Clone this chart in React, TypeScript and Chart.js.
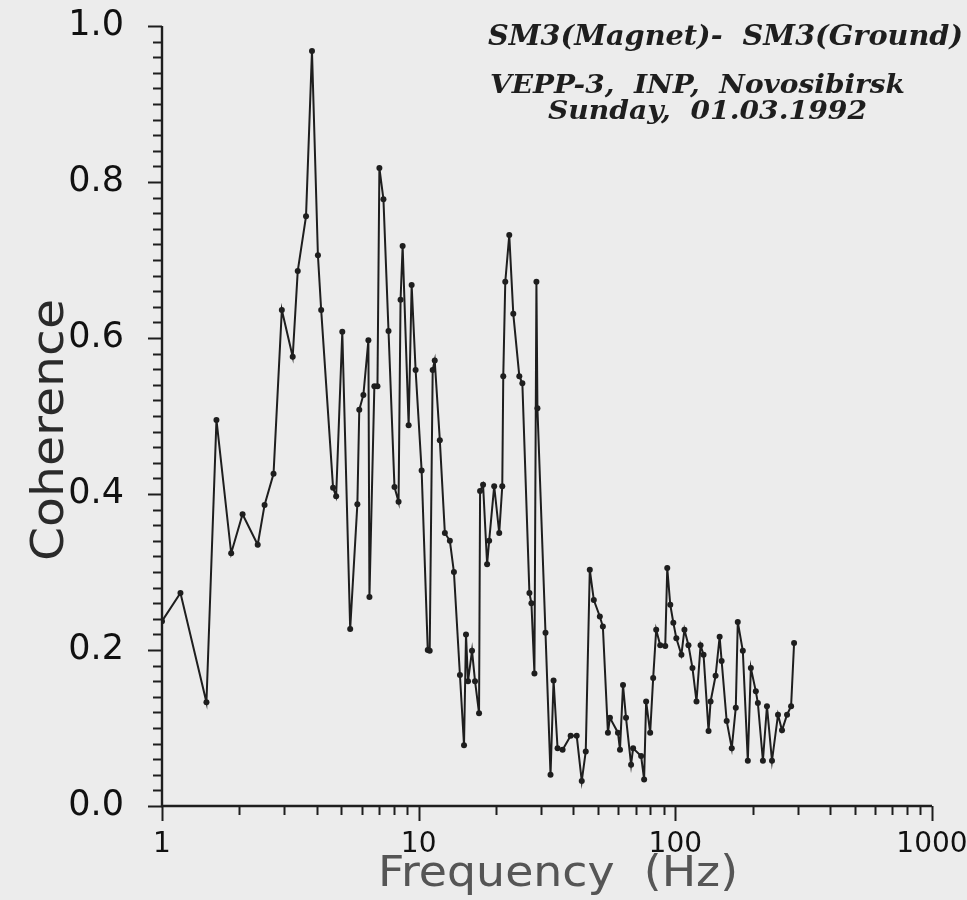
import React, { useEffect, useRef } from "react";
import { Chart, registerables } from "chart.js";

Chart.register(...registerables);

// Frequency (Hz) of each measured point
const frequencies = [
  1.0, 1.18, 1.49, 1.63, 1.86, 2.06, 2.36, 2.51, 2.72, 2.93, 3.23, 3.38, 3.64, 3.84, 4.05, 4.17,
  4.64, 4.77, 5.04, 5.41, 5.77, 5.87, 6.09, 6.37, 6.43, 6.72, 6.91, 7.03, 7.29, 7.63, 8.05, 8.35,
  8.5, 8.66, 9.14, 9.39, 9.73, 10.27, 10.85, 11.04, 11.34, 11.55, 12.09, 12.65, 13.23, 13.72,
  14.48, 15.02, 15.29, 15.57, 16.14, 16.58, 17.19, 17.35, 17.82, 18.48, 18.82, 19.69, 20.6, 21.17,
  21.36, 21.75, 22.54, 23.37, 24.67, 25.35, 27.01, 27.5, 28.25, 28.76, 29.02, 31.2, 32.64, 33.54,
  34.77, 36.37, 39.1, 41.28, 43.19, 44.77, 46.42, 48.13, 50.8, 52.2, 54.62, 55.62, 59.77, 60.86,
  62.54, 64.25, 67.23, 68.46, 73.56, 75.57, 76.95, 79.79, 81.97, 84.22, 87.33, 91.35, 93.01,
  95.57, 98.22, 100.9, 105.6, 108.5, 112.5, 116.6, 120.9, 125.4, 128.8, 134.7, 137.2, 143.5,
  148.8, 151.5, 158.5, 165.9, 172.0, 175.1, 183.2, 191.6, 196.9, 205.9, 209.7, 219.4, 227.5,
  238.0, 251.2, 260.4, 272.4, 282.5, 290.2,
];

// Coherence value of each point
const coherence = [
  0.237, 0.273, 0.133, 0.495, 0.324, 0.374, 0.335, 0.386, 0.426, 0.636, 0.576, 0.686, 0.756,
  0.968, 0.706, 0.636, 0.408, 0.397, 0.608, 0.227, 0.387, 0.508, 0.527, 0.597, 0.268, 0.538,
  0.538, 0.818, 0.778, 0.609, 0.409, 0.39, 0.649, 0.718, 0.488, 0.668, 0.559, 0.43, 0.2, 0.199,
  0.559, 0.571, 0.469, 0.35, 0.34, 0.3, 0.168, 0.078, 0.22, 0.16, 0.199, 0.16, 0.119, 0.404,
  0.412, 0.31, 0.34, 0.41, 0.35, 0.41, 0.551, 0.672, 0.732, 0.631, 0.551, 0.542, 0.273, 0.26,
  0.17, 0.672, 0.51, 0.222, 0.04, 0.161, 0.074, 0.072, 0.09, 0.09, 0.032, 0.07, 0.303, 0.264,
  0.243, 0.23, 0.094, 0.113, 0.094, 0.072, 0.155, 0.113, 0.053, 0.074, 0.064, 0.034, 0.134,
  0.094, 0.164, 0.226, 0.206, 0.205, 0.305, 0.258, 0.235, 0.215, 0.194, 0.226, 0.206, 0.177,
  0.134, 0.206, 0.194, 0.096, 0.134, 0.167, 0.217, 0.186, 0.109, 0.074, 0.126, 0.236, 0.199,
  0.058, 0.177, 0.147, 0.132, 0.058, 0.128, 0.058, 0.117, 0.097, 0.117, 0.128, 0.209,
];

const xMajorTicks = [1, 10, 100, 1000];
const xMinorMultipliers = [2, 3, 4, 5, 6, 7, 8, 9];
const yMajorStep = 0.2;
const yMinorStep = 0.02;

const titleLine1 = "SM3(Magnet)-  SM3(Ground)";
const titleLine2 = "VEPP-3,  INP,  Novosibirsk";
const titleLine3 = "Sunday,  01.03.1992";
const xAxisTitle = "Frequency  (Hz)";
const yAxisTitle = "Coherence";

const INK = "#1e1e1e";
const PAPER = "#ececec";

function fitText(
  ctx: CanvasRenderingContext2D,
  text: string,
  x0: number,
  x1: number,
  baseline: number,
  font: string,
  color: string
) {
  ctx.save();
  ctx.font = font;
  ctx.fillStyle = color;
  ctx.textAlign = "left";
  ctx.textBaseline = "alphabetic";
  const w = ctx.measureText(text).width;
  const sx = (x1 - x0) / w;
  ctx.translate(x0, baseline);
  ctx.scale(sx, 1);
  ctx.fillText(text, 0, 0);
  ctx.restore();
}

function zeroPadding(s: any) {
  s.paddingTop = 0;
  s.paddingBottom = 0;
  s.paddingLeft = 0;
  s.paddingRight = 0;
}

const decorPlugin = {
  id: "decor",
  beforeDraw(chart: any) {
    const ctx = chart.ctx as CanvasRenderingContext2D;
    ctx.save();
    ctx.fillStyle = PAPER;
    ctx.fillRect(0, 0, chart.width, chart.height);
    ctx.restore();
  },
  afterDraw(chart: any) {
    const ctx = chart.ctx as CanvasRenderingContext2D;
    const xs = chart.scales.x;
    const ys = chart.scales.y;
    const { left, right, top, bottom } = chart.chartArea;

    ctx.save();
    ctx.strokeStyle = INK;
    ctx.lineCap = "butt";

    // axes
    ctx.lineWidth = 2.4;
    ctx.beginPath();
    ctx.moveTo(left, top);
    ctx.lineTo(left, bottom);
    ctx.lineTo(right, bottom);
    ctx.stroke();

    // y ticks
    ctx.lineWidth = 2;
    const nY = Math.round(1 / yMinorStep);
    for (let i = 0; i <= nY; i++) {
      const v = i * yMinorStep;
      const py = Math.round(ys.getPixelForValue(v)) + 0.5;
      const major = i % Math.round(yMajorStep / yMinorStep) === 0;
      const len = major ? 14 : 9;
      ctx.beginPath();
      ctx.moveTo(left - len, py);
      ctx.lineTo(left, py);
      ctx.stroke();
    }

    // x ticks
    for (let d = 0; d < xMajorTicks.length; d++) {
      const base = xMajorTicks[d];
      const px = Math.round(xs.getPixelForValue(base)) + 0.5;
      ctx.beginPath();
      ctx.moveTo(px, bottom);
      ctx.lineTo(px, bottom + 15);
      ctx.stroke();
      if (d < xMajorTicks.length - 1) {
        for (const m of xMinorMultipliers) {
          const mx = Math.round(xs.getPixelForValue(base * m)) + 0.5;
          ctx.beginPath();
          ctx.moveTo(mx, bottom);
          ctx.lineTo(mx, bottom + 9);
          ctx.stroke();
        }
      }
    }
    ctx.restore();

    // annotation text
    fitText(ctx, titleLine1, 488, 963, 45, "italic bold 27px 'DejaVu Serif'", INK);
    fitText(ctx, titleLine2, 490, 905, 93, "italic bold 26px 'DejaVu Serif'", INK);
    fitText(ctx, titleLine3, 548, 867, 119, "italic bold 26px 'DejaVu Serif'", INK);

    // x axis title
    fitText(ctx, xAxisTitle, 378, 738, 886, "42px 'DejaVu Sans'", "#555555");

    // y axis title (rotated)
    ctx.save();
    ctx.translate(63, 561);
    ctx.rotate(-Math.PI / 2);
    fitText(ctx, yAxisTitle, 0, 262, 0, "44px 'DejaVu Sans'", "#2a2a2a");
    ctx.restore();
  },
};

export default function App() {
  const canvasRef = useRef<HTMLCanvasElement | null>(null);

  useEffect(() => {
    document.body.style.margin = "0";
    document.body.style.background = PAPER;
    const canvas = canvasRef.current;
    if (!canvas) return;

    const points = frequencies.map((f, i) => ({ x: f, y: coherence[i] }));

    const chart = new Chart(canvas, {
      type: "line",
      data: {
        datasets: [
          {
            data: points,
            borderColor: INK,
            borderWidth: 2,
            pointRadius: 3,
            pointBackgroundColor: INK,
            pointBorderWidth: 0,
            pointHoverRadius: 3,
            tension: 0,
            fill: false,
          },
        ],
      },
      options: {
        responsive: false,
        animation: false,
        devicePixelRatio: 1,
        events: [],
        layout: {
          autoPadding: false,
          padding: { top: 26, right: 35, left: 0, bottom: 0 },
        },
        plugins: {
          legend: { display: false },
          tooltip: { enabled: false },
          title: { display: false },
        },
        scales: {
          x: {
            type: "logarithmic",
            min: 1,
            max: 1000,
            afterFit: (s: any) => {
              s.height = 94;
              zeroPadding(s);
            },
            grid: { display: false, drawTicks: false },
            border: { display: false },
            ticks: {
              autoSkip: false,
              maxRotation: 0,
              minRotation: 0,
              padding: 22,
              color: "#111111",
              font: { family: "'DejaVu Sans'", size: 28 },
              callback: (value: any) => {
                const v = Number(value);
                return xMajorTicks.includes(v) ? String(v) : "";
              },
            },
          },
          y: {
            type: "linear",
            min: 0,
            max: 1,
            afterFit: (s: any) => {
              s.width = 162;
              zeroPadding(s);
            },
            grid: { display: false, drawTicks: false },
            border: { display: false },
            ticks: {
              stepSize: yMajorStep,
              padding: 38,
              color: "#111111",
              font: { family: "'DejaVu Sans'", size: 35 },
              callback: (value: any) => Number(value).toFixed(1),
            },
          },
        },
      },
      plugins: [decorPlugin],
    });

    return () => {
      chart.destroy();
    };
  }, []);

  return (
    <div style={{ width: 967, height: 900, position: "relative" }}>
      <canvas ref={canvasRef} width={967} height={900} style={{ display: "block" }} />
    </div>
  );
}
